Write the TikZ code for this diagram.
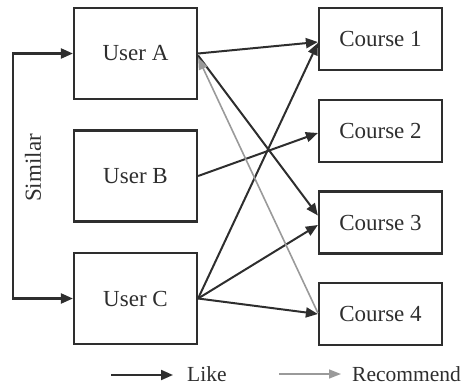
\documentclass[tikz,border=0pt]{standalone}
\usepackage{fontspec}
\setmainfont{Liberation Serif}
\usetikzlibrary{arrows.meta}
\definecolor{ink}{HTML}{2E2E2E}
\definecolor{rec}{HTML}{9A9A9A}
\tikzset{
  box/.style={draw=ink, line width=2.2pt, minimum width=123pt, inner sep=0pt,
    text=ink, font=\fontsize{23}{25}\selectfont},
  userbox/.style={box, minimum height=91pt},
  coursebox/.style={box, minimum height=62pt},
  like/.style={draw=ink, line width=2pt, -{Triangle[length=12pt,width=10pt]}},
  recommend/.style={draw=rec, line width=1.6pt, -{Triangle[length=12pt,width=9pt]}},
  lbl/.style={text=ink, inner sep=0pt, font=\fontsize{23}{25}\selectfont},
  legendlbl/.style={lbl, anchor=west, font=\fontsize{21.5}{24}\selectfont}
}
\begin{document}
\begin{tikzpicture}[x=1pt, y=-1pt]
  \useasboundingbox (0,0) rectangle (467,391);
  % users
  \node[userbox] (ua) at (135.5,53.5) {User A};
  \node[userbox] (ub) at (135.5,176) {User B};
  \node[userbox] (uc) at (135.5,298.5) {User C};
  % courses
  \node[coursebox] (c1) at (380.5,39) {Course 1};
  \node[coursebox] (c2) at (380.5,131) {Course 2};
  \node[coursebox] (c3) at (380.5,222.5) {Course 3};
  \node[coursebox] (c4) at (380.5,314) {Course 4};
  % similarity link between users A and C
  \coordinate (sim) at (13,0);
  \draw[draw=ink, line width=2.2pt, {Triangle[length=12pt,width=10pt]}-{Triangle[length=12pt,width=10pt]}]
    (ua.west) -- (ua.west -| sim) -- (uc.west -| sim) -- (uc.west);
  \node[lbl, rotate=90] (simlbl) at (33,168) {Similar};
  % likes
  \draw[like] (ua.east) -- ([yshift=-3pt]c1.west);
  \draw[like] ([yshift=-2pt]ua.east) -- ([yshift=7pt]c3.west);
  \draw[like] (ub.east) -- ([yshift=-2pt]c2.west);
  \draw[like] (uc.east) -- ([yshift=-4pt]c1.west);
  \draw[like] (uc.east) -- ([yshift=-2.5pt]c3.west);
  \draw[like] (uc.east) -- (c4.west);
  % recommendation
  \draw[recommend] ([yshift=1pt]c4.west) -- ([yshift=-4pt]ua.east);
  % legend
  \coordinate (l1a) at (111,375);
  \coordinate (l1b) at (173,375);
  \draw[like] (l1a) -- (l1b);
  \node[legendlbl] (liketxt) at (187,374) {Like};
  \coordinate (l2a) at (279,374);
  \coordinate (l2b) at (341,374);
  \draw[recommend] (l2a) -- (l2b);
  \node[legendlbl] (rectxt) at (352,374) {Recommend};
\end{tikzpicture}
\end{document}
